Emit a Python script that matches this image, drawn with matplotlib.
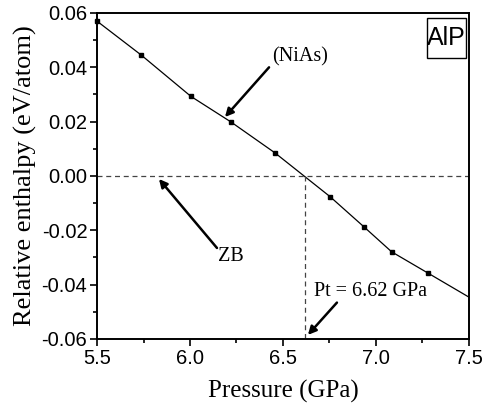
import matplotlib
matplotlib.use("Agg")
import matplotlib.pyplot as plt
from matplotlib.patches import Rectangle
from matplotlib.ticker import MultipleLocator

# pressure (GPa) and relative enthalpy (eV/atom), NiAs vs ZB
pressure = [5.5, 5.738, 6.005, 6.22, 6.457, 6.753, 6.935, 7.084, 7.281, 7.5]
enthalpy = [0.0570, 0.0445, 0.0293, 0.0199, 0.0085, -0.0076, -0.0187, -0.0279, -0.0358, -0.0446]
pt = 6.62

plt.rcParams["axes.unicode_minus"] = False
serif = ["Liberation Serif", "DejaVu Serif"]
sans = ["Liberation Sans", "DejaVu Sans"]

fig = plt.figure(figsize=(4.87, 4.11), dpi=100)
ax = fig.add_axes([0.1992, 0.1752, 0.7638, 0.7932])

ax.plot(pressure, enthalpy, "-", color="k", lw=0.9,
        marker="s", ms=3.5, markevery=list(range(len(pressure) - 1)), clip_on=False)

# zero line and transition pressure
ax.axhline(0.0, color="#444444", lw=0.9, ls=(0, (4, 3)))
ax.plot([pt, pt], [0.0, -0.06], color="#444444", lw=0.9, ls=(0, (4, 3)))

ax.set_xlim(5.5, 7.5)
ax.set_ylim(-0.06, 0.06)
ax.xaxis.set_major_locator(MultipleLocator(0.5))
ax.xaxis.set_minor_locator(MultipleLocator(0.25))
ax.yaxis.set_major_locator(MultipleLocator(0.02))
ax.yaxis.set_minor_locator(MultipleLocator(0.01))
ax.set_xticklabels([f"{v:.1f}" for v in ax.get_xticks()])
ax.set_yticklabels([f"{v:.2f}".replace("-0.00", "0.00") for v in ax.get_yticks()])
ax.tick_params(which="both", direction="out", top=False, right=False, width=1.2)
ax.tick_params(which="major", length=5, labelsize=14.5, pad=2)
ax.tick_params(which="minor", length=3)
for lab in ax.get_xticklabels() + ax.get_yticklabels():
    lab.set_family(sans)
for s in ax.spines.values():
    s.set_linewidth(1.4)

ax.set_xlabel("Pressure (GPa)", family=serif, fontsize=18, labelpad=9)
ax.set_ylabel("Relative enthalpy (eV/atom)", family=serif, fontsize=19, labelpad=3)

arrow = dict(arrowstyle="-|>", lw=1.8, color="k", mutation_scale=12, shrinkA=0, shrinkB=0)
ax.annotate("", xy=(6.188, 0.0217), xytext=(6.425, 0.040), arrowprops=arrow)
ax.text(6.44, 0.0438, "(NiAs)", family=serif, fontsize=14.5, va="center", ha="left")
ax.annotate("", xy=(5.833, -0.0011), xytext=(6.145, -0.0265), arrowprops=arrow)
ax.text(6.15, -0.0298, "ZB", family=serif, fontsize=14.5, va="center", ha="left")
ax.annotate("", xy=(6.634, -0.0585), xytext=(6.79, -0.0466), arrowprops=arrow)
ax.text(6.667, -0.0426, "Pt = 6.62 GPa", family=serif, fontsize=14.5, va="center", ha="left")

# label box in the corner
ax.add_patch(Rectangle((0.887, 0.862), 0.105, 0.123, transform=ax.transAxes,
                       fc="white", ec="k", lw=1.0))
ax.text(0.9395, 0.9235, "AlP", transform=ax.transAxes, family=sans, fontsize=18,
        ha="center", va="center")

fig.savefig("out.png", dpi=100)
